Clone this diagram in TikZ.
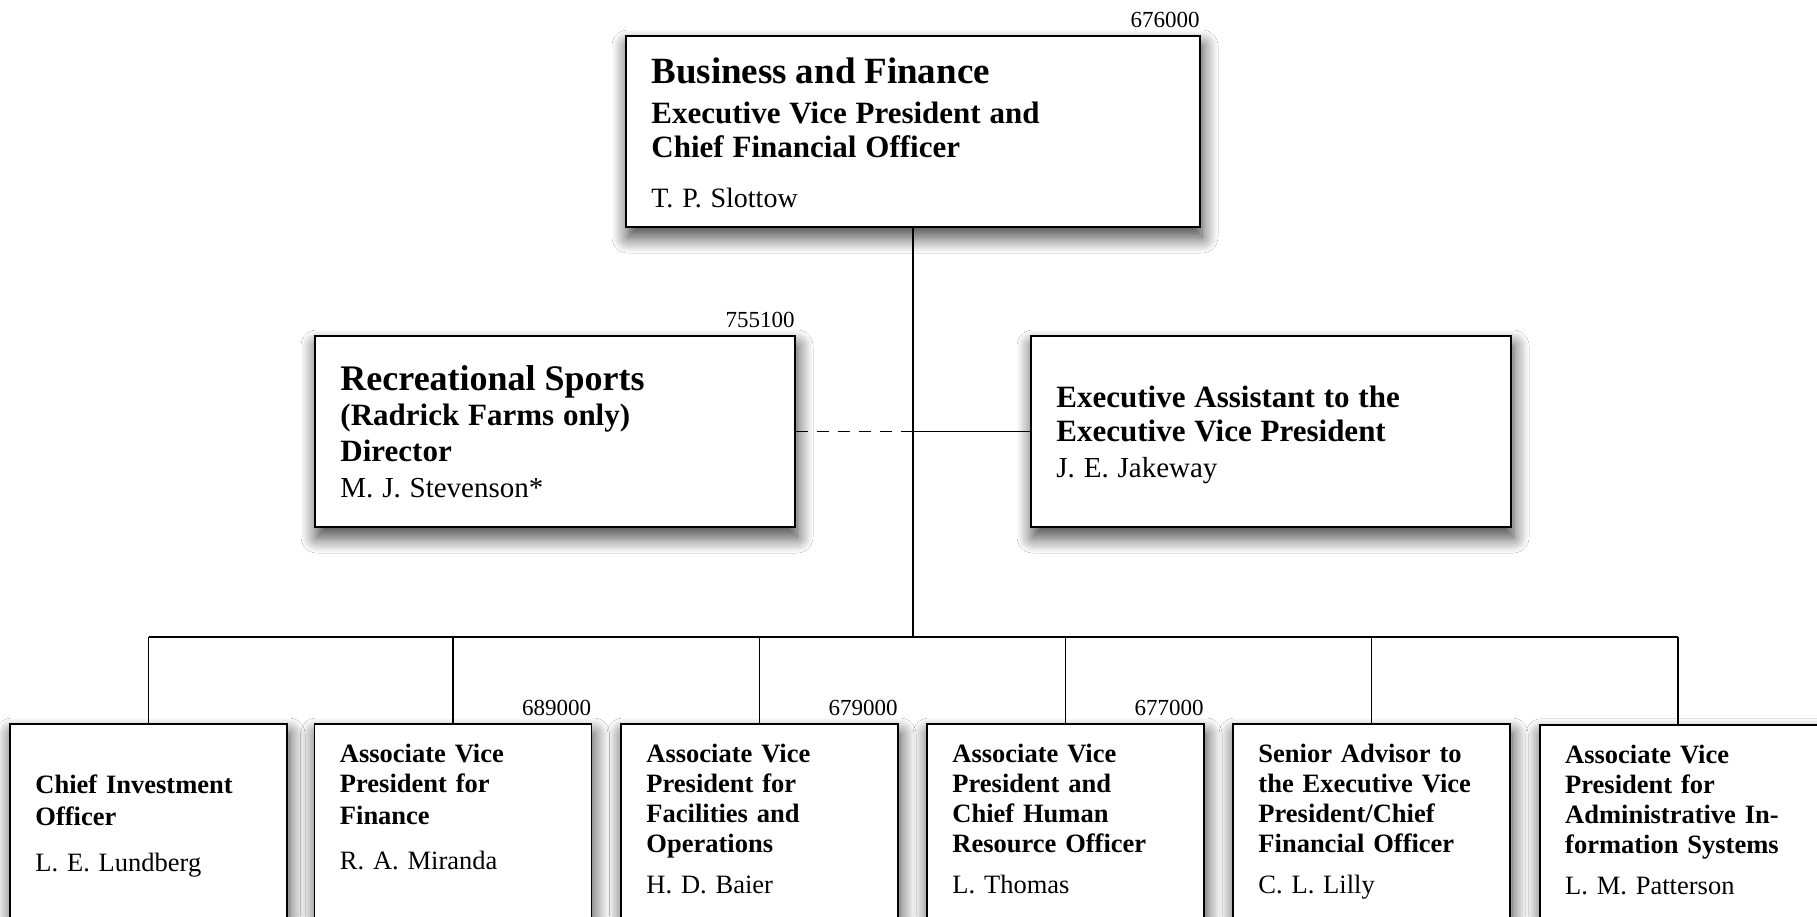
\documentclass[tikz,border=0pt]{standalone}
\usepackage{fontspec}
\setmainfont{Liberation Serif}
\usetikzlibrary{shadows.blur}

\begin{document}
\begin{tikzpicture}[x=1pt,y=-1pt,
    box/.style={draw,fill=white,line width=1.5pt,inner sep=0pt,
      blur shadow={shadow xshift=2pt,shadow yshift=-10pt,shadow blur radius=16pt,
        shadow blur steps=14,shadow opacity=78}},
    topbox/.style={box,minimum width=574pt,minimum height=191pt},
    midbox/.style={box,minimum width=480pt,minimum height=191pt},
    lowbox/.style={box,minimum width=277pt,minimum height=260pt},
    txt/.style={anchor=base west,align=left,text width=420pt,inner sep=0pt,
      font=\fontsize{26.5}{30}\selectfont},
    num/.style={anchor=base east,inner sep=0pt,font=\fontsize{23}{25}\selectfont},
    conn/.style={line width=1.3pt}]
    \useasboundingbox (0,0) rectangle (1817,916);
    \clip (0,0) rectangle (1817,916);
    \fill[white] (0,0) rectangle (1817,916);
    \node[topbox] (bf) at (913,131.5) {};
    \node[midbox] (rs) at (555,431.5) {};
    \node[midbox] (ea) at (1271,431.5) {};
    \node[lowbox] (cio) at (148.5,854) {};
    \node[lowbox] (fin) at (453,854) {};
    \node[lowbox] (fac) at (759.5,854) {};
    \node[lowbox] (hr) at (1065.5,854) {};
    \node[lowbox] (adv) at (1371.5,854) {};
    \node[lowbox,minimum width=320pt,anchor=north west] (ais) at (1539,724) {};
    \coordinate (bus) at (913,637);
    \coordinate (ais-in) at (1678,724);
    \coordinate (jn) at (bf.south |- rs.east);
    \draw[conn] (bf.south) -- (bus);
    \draw[conn,dash pattern=on 12pt off 9pt] (rs.east) -- (jn);
    \draw[conn] (jn) -- (ea.west);
    \draw[conn] (cio.north |- bus) -- (ais-in |- bus);
    \foreach \n in {cio,fin,fac,hr,adv}
        \draw[conn] (\n.north |- bus) -- (\n.north);
    \draw[conn] (ais-in |- bus) -- (ais-in);
    \node[num] (bf-n) at ([shift={(-1,-8)}]bf.north east) {676000};
    \node[num] (rs-n) at ([shift={(-1,-8)}]rs.north east) {755100};
    \node[num] (fin-n) at ([shift={(-1,-8)}]fin.north east) {689000};
    \node[num] (fac-n) at ([shift={(-1,-8)}]fac.north east) {679000};
    \node[num] (hr-n) at ([shift={(-1,-8)}]hr.north east) {677000};
    \node[txt] (bf-t) at ([shift={(26,48)}]bf.north west) {\bfseries\fontsize{37}{34}\selectfont Business and Finance\\[6pt]
        \fontsize{31}{34}\selectfont Executive Vice President and\\ Chief Financial Officer\\[20pt]
        \mdseries\fontsize{28}{34}\selectfont T. P. Slottow};
    \node[txt] (rs-t) at ([shift={(26,55)}]rs.north west) {\bfseries\fontsize{36}{35.5}\selectfont Recreational Sports\\
        \fontsize{31}{35.5}\selectfont (Radrick Farms only)\\ Director\\[6pt]
        \mdseries\fontsize{29}{35.5}\selectfont M. J. Stevenson*};
    \node[txt] (ea-t) at ([shift={(26,72)}]ea.north west) {\bfseries\fontsize{31}{34}\selectfont Executive Assistant to the\\ Executive Vice President\\[6pt]
        \mdseries\fontsize{29}{34}\selectfont J. E. Jakeway};
    \node[txt] (cio-t) at ([shift={(26,70)}]cio.north west) {\bfseries Chief Investment\\[2pt] Officer\\[16pt]\mdseries L. E. Lundberg};
    \node[txt] (fin-t) at ([shift={(26,39)}]fin.north west) {\bfseries Associate Vice\\ President for\\[2pt] Finance\\[15pt]\mdseries R. A. Miranda};
    \node[txt] (fac-t) at ([shift={(26,39)}]fac.north west) {\bfseries Associate Vice\\ President for\\ Facilities and\\ Operations\\[11pt]\mdseries H. D. Baier};
    \node[txt] (hr-t) at ([shift={(26,39)}]hr.north west) {\bfseries Associate Vice\\ President and\\ Chief Human\\ Resource Officer\\[11pt]\mdseries L. Thomas};
    \node[txt] (adv-t) at ([shift={(26,39)}]adv.north west) {\bfseries Senior Advisor to\\ the Executive Vice\\ President/Chief\\ Financial Officer\\[11pt]\mdseries C. L. Lilly};
    \node[txt] (ais-t) at ([shift={(26,39)}]ais.north west) {\bfseries Associate Vice\\ President for\\ Administrative In-\\ formation Systems\\[11pt]\mdseries L. M. Patterson};
\end{tikzpicture}
\end{document}
